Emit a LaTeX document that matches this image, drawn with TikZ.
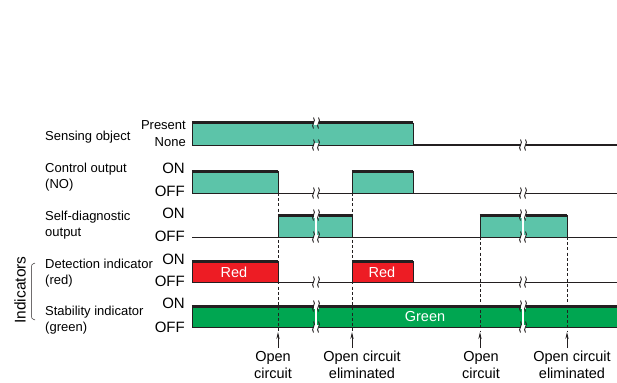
\documentclass[tikz,border=0pt]{standalone}
\usepackage{fontspec}
\setmainfont{Liberation Sans}
\usetikzlibrary{arrows.meta}
\definecolor{teal1}{HTML}{5CC4A9}
\definecolor{red1}{HTML}{ED1C24}
\definecolor{green1}{HTML}{00A651}
\definecolor{ink}{HTML}{231F20}
\tikzset{
  base/.style={draw=ink, line width=1pt},
  topline/.style={draw=ink, line width=3pt},
  edge/.style={draw=ink, line width=0.7pt},
  brkline/.style={draw=ink, line width=0.9pt},
  dashline/.style={draw=ink, line width=0.7pt, dash pattern=on 3pt off 2.2pt},
  arr/.style={draw=ink, line width=0.8pt, -{Stealth[length=7pt,width=3.2pt]}},
  lbl/.style={inner sep=0pt, font=\fontsize{13}{16}\selectfont, align=left},
  lvl/.style={inner sep=0pt, font=\fontsize{15}{18}\selectfont, anchor=east},
  bot/.style={inner sep=0pt, font=\fontsize{14.5}{16.5}\selectfont, align=center},
  intext/.style={inner sep=0pt, text=white, font=\fontsize{14.5}{16}\selectfont},
}
\newcommand\hiseg[5]{% x1 x2 top bot colour
  \fill[#5] (#1,#3) rectangle (#2,#4);
  \draw[edge] (#1,#4) -- (#1,#3);
  \draw[edge] (#2,#3) -- (#2,#4);
  \draw[topline] (#1-0.2,#3) -- (#2+0.2,#3);
}
\newcommand\squig[2]{% x y
  \draw[brkline] (#1,#2-5.5) .. controls (#1+3.2,#2-1.5) and (#1-3.2,#2+1.5) .. (#1,#2+5.5);
}
\newcommand\lobrk[2]{% x y  (break on a line)
  \fill[white] (#1-2.5,#2-2.2) rectangle (#1+2.5,#2+2.2);
  \squig{#1-2.5}{#2}\squig{#1+2.5}{#2}
}
\newcommand\hibrk[3]{% x top bot (break through a filled level)
  \fill[white] (#1-2.5,#2-2.5) rectangle (#1+2.5,#2+2.5);
  \fill[white] (#1-0.8,#2) rectangle (#1+0.8,#3);
  \fill[white] (#1-2.5,#3-2.2) rectangle (#1+2.5,#3+2.2);
  \squig{#1-2.5}{#2}\squig{#1+2.5}{#2}
  \squig{#1-2.5}{#3}\squig{#1+2.5}{#3}
}
\begin{document}
\begin{tikzpicture}[x=1pt,y=-1pt]
\useasboundingbox (0,0) rectangle (617,382);

% baselines
\foreach \yb in {145,193,237,282,327}{
  \draw[base] (192,\yb) -- (617,\yb);
}

% sensing object
\hiseg{192}{413}{123}{145}{teal1}
% control output
\hiseg{192}{278}{171}{193}{teal1}
\hiseg{352}{413}{171}{193}{teal1}
% self-diagnostic output
\hiseg{278}{352}{215}{237}{teal1}
\hiseg{480}{567}{215}{237}{teal1}
% detection indicator
\hiseg{192}{278}{261}{282}{red1}
\hiseg{352}{413}{261}{282}{red1}
% stability indicator
\fill[green1] (192,306) rectangle (617,327);
\draw[edge] (192,327) -- (192,306);
\draw[topline] (191.8,306) -- (617,306);
\draw[base] (192,327) -- (617,327);

% breaks
\lobrk{316}{123}
\lobrk{316}{145}
\lobrk{523}{145}
\lobrk{316}{193}
\lobrk{523}{193}
\hibrk{316}{215}{237}
\hibrk{523}{215}{237}
\lobrk{316}{282}
\lobrk{523}{282}
\hibrk{316}{306}{327}
\hibrk{523}{306}{327}

% event coordinates
\coordinate (d1) at (278,193);
\coordinate (d2) at (352,193);
\coordinate (d3) at (480,237);
\coordinate (d4) at (567,237);
\coordinate (t1) at (278,332);
\coordinate (t2) at (352,332);
\coordinate (t3) at (480,332);
\coordinate (t4) at (567,332);
\coordinate (b1) at (278,348);
\coordinate (b2) at (352,348);
\coordinate (b3) at (480,348);
\coordinate (b4) at (567,348);

\draw[dashline] (d1) -- (t1);
\draw[dashline] (d2) -- (t2);
\draw[dashline] (d3) -- (t3);
\draw[dashline] (d4) -- (t4);
\draw[arr] (b1) -- (t1);
\draw[arr] (b2) -- (t2);
\draw[arr] (b3) -- (t3);
\draw[arr] (b4) -- (t4);

% texts in bars
\node[intext] (red1t) at (234,272) {Red};
\node[intext] (red2t) at (382,272) {Red};
\node[intext] (greent) at (425,317) {Green};

% left labels
\node[lbl, anchor=west] (l1) at (45,137) {Sensing object};
\node[lbl, anchor=west] (l2) at (45,177) {Control output\\(NO)};
\node[lbl, anchor=west] (l3) at (45,225) {Self-diagnostic\\output};
\node[lbl, anchor=west] (l4) at (45,273) {Detection indicator\\(red)};
\node[lbl, anchor=west] (l5) at (45,320) {Stability indicator\\(green)};

\node[lbl, anchor=east] (p1) at (186,125) {Present};
\node[lbl, anchor=east] (p2) at (186,142) {None};
\node[lvl] (on1) at (185,168) {ON};
\node[lvl] (off1) at (185,191) {OFF};
\node[lvl] (on2) at (185,213) {ON};
\node[lvl] (off2) at (185,236) {OFF};
\node[lvl] (on3) at (185,259) {ON};
\node[lvl] (off3) at (185,281) {OFF};
\node[lvl] (on4) at (185,303) {ON};
\node[lvl] (off4) at (185,327) {OFF};

% indicators group
\node[inner sep=0pt, rotate=90, font=\fontsize{15.5}{18}\selectfont] (ind) at (20,290) {Indicators};
\draw[ink, line width=0.5pt] (35,263) .. controls (31.5,264.5) .. (31.5,269) -- (31.5,314) .. controls (31.5,318.5) .. (35,320);

% bottom labels
\node[bot] (o1) at (273,365) {Open\\circuit};
\node[bot] (o2) at (362,365) {Open circuit\\eliminated};
\node[bot] (o3) at (481,365) {Open\\circuit};
\node[bot] (o4) at (572,365) {Open circuit\\eliminated};
\end{tikzpicture}
\end{document}
